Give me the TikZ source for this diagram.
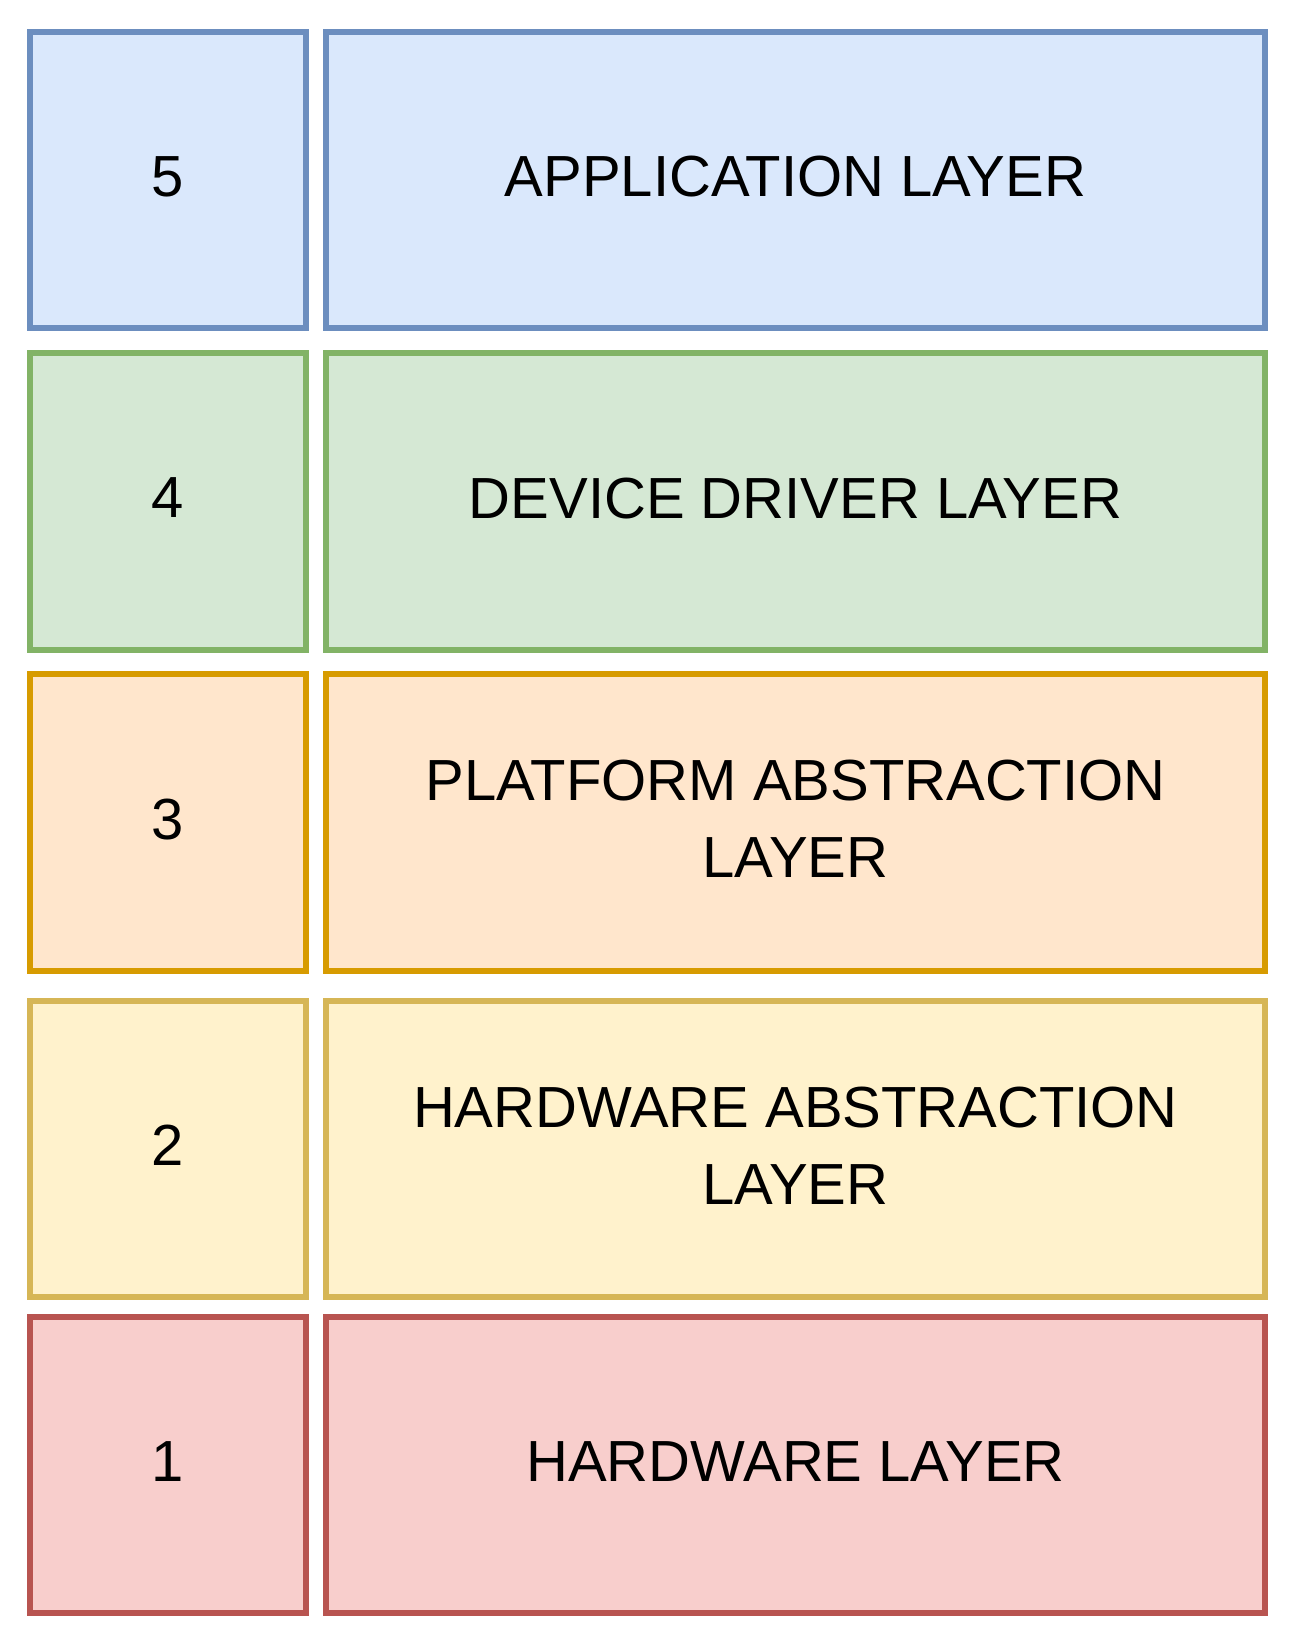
\documentclass[tikz,border=0pt]{standalone}
\usepackage{fontspec}
\setmainfont{Liberation Sans}
\definecolor{bluefill}{HTML}{DAE8FC}
\definecolor{bluedraw}{HTML}{6C8EBF}
\definecolor{greenfill}{HTML}{D5E8D4}
\definecolor{greendraw}{HTML}{82B366}
\definecolor{orangefill}{HTML}{FFE6CC}
\definecolor{orangedraw}{HTML}{D79B00}
\definecolor{yellowfill}{HTML}{FFF2CC}
\definecolor{yellowdraw}{HTML}{D6B656}
\definecolor{redfill}{HTML}{F8CECC}
\definecolor{reddraw}{HTML}{B85450}
\tikzset{
  layerbox/.style={draw, line width=5.5pt, inner sep=0pt, align=center,
    text depth=7pt, font=\fontsize{58}{77}\selectfont},
  numbox/.style={layerbox, minimum width=276pt},
  namebox/.style={layerbox, minimum width=939pt},
  bluelayer/.style={fill=bluefill, draw=bluedraw, minimum height=296pt},
  greenlayer/.style={fill=greenfill, draw=greendraw, minimum height=297pt},
  orangelayer/.style={fill=orangefill, draw=orangedraw, minimum height=297pt},
  yellowlayer/.style={fill=yellowfill, draw=yellowdraw, minimum height=296pt},
  redlayer/.style={fill=redfill, draw=reddraw, minimum height=296pt}
}
\begin{document}
\begin{tikzpicture}[x=1pt,y=-1pt]
\useasboundingbox[fill=white] (0,0) rectangle (1291,1646);
% row 5
\node[numbox, bluelayer] (n5) at (168,180) {5};
\node[namebox, bluelayer] (l5) at (795.5,180) {APPLICATION LAYER};
% row 4
\node[numbox, greenlayer] (n4) at (168,501.5) {4};
\node[namebox, greenlayer] (l4) at (795.5,501.5) {DEVICE DRIVER LAYER};
% row 3
\node[numbox, orangelayer] (n3) at (168,822.5) {3};
\node[namebox, orangelayer] (l3) at (795.5,822.5) {PLATFORM ABSTRACTION\\LAYER};
% row 2
\node[numbox, yellowlayer] (n2) at (168,1149) {2};
\node[namebox, yellowlayer] (l2) at (795.5,1149) {HARDWARE ABSTRACTION\\LAYER};
% row 1
\node[numbox, redlayer] (n1) at (168,1465) {1};
\node[namebox, redlayer] (l1) at (795.5,1465) {HARDWARE LAYER};
\end{tikzpicture}
\end{document}
